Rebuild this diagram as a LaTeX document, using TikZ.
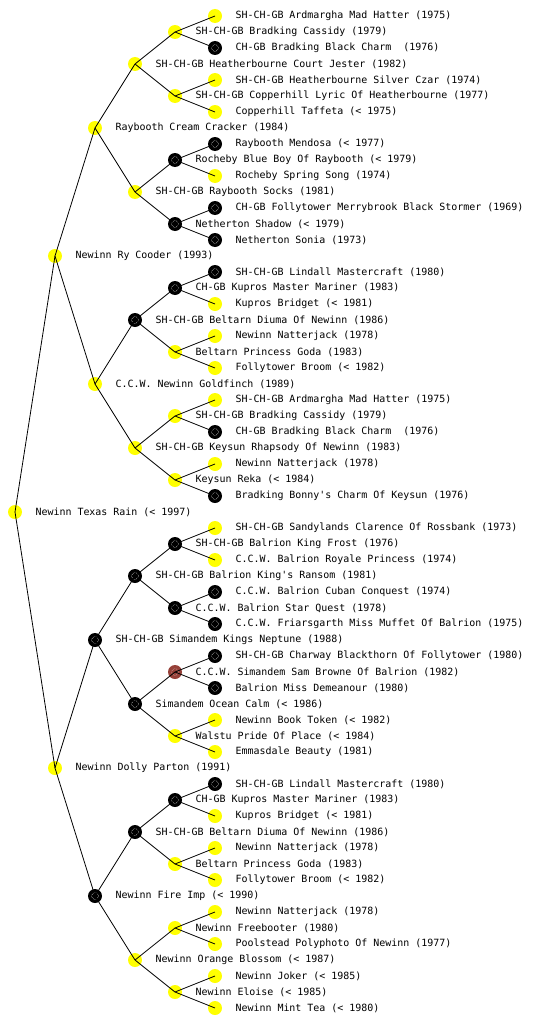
\documentclass[tikz,border=0pt]{standalone}
\usepackage{fontspec}
\newfontfamily\pedfont{DejaVu Sans Mono}
\usepackage{tikz}
\usetikzlibrary{calc}
\definecolor{pedYellow}{RGB}{255,255,0}
\definecolor{pedBrown}{RGB}{150,64,56}

\begin{document}
\begin{tikzpicture}[
    x=0.75pt, y=-0.75pt,
    dognode/.style={circle, inner sep=0pt, minimum size=10.5pt},
    yel/.style={dognode, fill=pedYellow},
    blk/.style={dognode, fill=black,
      path picture={\draw[white, line width=0.4pt, dash pattern=on 0.4pt off 0.9pt]
        (path picture bounding box.center) circle (2.6pt);}},
    brn/.style={dognode, fill=pedBrown,
      path picture={\draw[white!70!pedBrown, line width=0.4pt, dash pattern=on 0.4pt off 0.9pt]
        (path picture bounding box.center) circle (2.6pt);}},
    every label/.style={inner sep=0pt, anchor=west,
      font=\pedfont\fontsize{7.47pt}{8pt}\selectfont},
    label distance=9.75pt,
    edge/.style={draw=black, line width=0.6pt},
  ]
  \useasboundingbox[fill=white] (0,0) rectangle (560,1024);

  % root
  \node[yel, label={east:Newinn Texas Rain (< 1997)}] (dog) at (15,512) {};

  % parents
  \node[yel, label={east:Newinn Ry Cooder (1993)}] (dogs) at (55,256) {};
  \node[yel, label={east:Newinn Dolly Parton (1991)}] (dogd) at (55,768) {};

  % grandparents
  \node[yel, label={east:Raybooth Cream Cracker (1984)}] (dogss) at (95,128) {};
  \node[yel, label={east:C.C.W. Newinn Goldfinch (1989)}] (dogsd) at (95,384) {};
  \node[blk, label={east:SH-CH-GB Simandem Kings Neptune (1988)}] (dogds) at (95,640) {};
  \node[blk, label={east:Newinn Fire Imp (< 1990)}] (dogdd) at (95,896) {};

  % great-grandparents
  \node[yel, label={east:SH-CH-GB Heatherbourne Court Jester (1982)}] (dogsss) at (135,64) {};
  \node[yel, label={east:SH-CH-GB Raybooth Socks (1981)}] (dogssd) at (135,192) {};
  \node[blk, label={east:SH-CH-GB Beltarn Diuma Of Newinn (1986)}] (dogsds) at (135,320) {};
  \node[yel, label={east:SH-CH-GB Keysun Rhapsody Of Newinn (1983)}] (dogsdd) at (135,448) {};
  \node[blk, label={east:SH-CH-GB Balrion King's Ransom (1981)}] (dogdss) at (135,576) {};
  \node[blk, label={east:Simandem Ocean Calm (< 1986)}] (dogdsd) at (135,704) {};
  \node[blk, label={east:SH-CH-GB Beltarn Diuma Of Newinn (1986)}] (dogdds) at (135,832) {};
  \node[yel, label={east:Newinn Orange Blossom (< 1987)}] (dogddd) at (135,960) {};

  % 4th generation
  \node[yel, label={east:SH-CH-GB Bradking Cassidy (1979)}] (dogssss) at (175,32) {};
  \node[yel, label={east:SH-CH-GB Copperhill Lyric Of Heatherbourne (1977)}] (dogsssd) at (175,96) {};
  \node[blk, label={east:Rocheby Blue Boy Of Raybooth (< 1979)}] (dogssds) at (175,160) {};
  \node[blk, label={east:Netherton Shadow (< 1979)}] (dogssdd) at (175,224) {};
  \node[blk, label={east:CH-GB Kupros Master Mariner (1983)}] (dogsdss) at (175,288) {};
  \node[yel, label={east:Beltarn Princess Goda (1983)}] (dogsdsd) at (175,352) {};
  \node[yel, label={east:SH-CH-GB Bradking Cassidy (1979)}] (dogsdds) at (175,416) {};
  \node[yel, label={east:Keysun Reka (< 1984)}] (dogsddd) at (175,480) {};
  \node[blk, label={east:SH-CH-GB Balrion King Frost (1976)}] (dogdsss) at (175,544) {};
  \node[blk, label={east:C.C.W. Balrion Star Quest (1978)}] (dogdssd) at (175,608) {};
  \node[brn, label={east:C.C.W. Simandem Sam Browne Of Balrion (1982)}] (dogdsds) at (175,672) {};
  \node[yel, label={east:Walstu Pride Of Place (< 1984)}] (dogdsdd) at (175,736) {};
  \node[blk, label={east:CH-GB Kupros Master Mariner (1983)}] (dogddss) at (175,800) {};
  \node[yel, label={east:Beltarn Princess Goda (1983)}] (dogddsd) at (175,864) {};
  \node[yel, label={east:Newinn Freebooter (1980)}] (dogddds) at (175,928) {};
  \node[yel, label={east:Newinn Eloise (< 1985)}] (dogdddd) at (175,992) {};

  % 5th generation
  \node[yel, label={east:SH-CH-GB Ardmargha Mad Hatter (1975)}] (dogsssss) at (215,16) {};
  \node[blk, label={east:CH-GB Bradking Black Charm~ (1976)}] (dogssssd) at (215,48) {};
  \node[yel, label={east:SH-CH-GB Heatherbourne Silver Czar (1974)}] (dogsssds) at (215,80) {};
  \node[yel, label={east:Copperhill Taffeta (< 1975)}] (dogsssdd) at (215,112) {};
  \node[blk, label={east:Raybooth Mendosa (< 1977)}] (dogssdss) at (215,144) {};
  \node[yel, label={east:Rocheby Spring Song (1974)}] (dogssdsd) at (215,176) {};
  \node[blk, label={east:CH-GB Follytower Merrybrook Black Stormer (1969)}] (dogssdds) at (215,208) {};
  \node[blk, label={east:Netherton Sonia (1973)}] (dogssddd) at (215,240) {};
  \node[blk, label={east:SH-CH-GB Lindall Mastercraft (1980)}] (dogsdsss) at (215,272) {};
  \node[yel, label={east:Kupros Bridget (< 1981)}] (dogsdssd) at (215,304) {};
  \node[yel, label={east:Newinn Natterjack (1978)}] (dogsdsds) at (215,336) {};
  \node[yel, label={east:Follytower Broom (< 1982)}] (dogsdsdd) at (215,368) {};
  \node[yel, label={east:SH-CH-GB Ardmargha Mad Hatter (1975)}] (dogsddss) at (215,400) {};
  \node[blk, label={east:CH-GB Bradking Black Charm~ (1976)}] (dogsddsd) at (215,432) {};
  \node[yel, label={east:Newinn Natterjack (1978)}] (dogsddds) at (215,464) {};
  \node[blk, label={east:Bradking Bonny's Charm Of Keysun (1976)}] (dogsdddd) at (215,496) {};
  \node[yel, label={east:SH-CH-GB Sandylands Clarence Of Rossbank (1973)}] (dogdssss) at (215,528) {};
  \node[yel, label={east:C.C.W. Balrion Royale Princess (1974)}] (dogdsssd) at (215,560) {};
  \node[blk, label={east:C.C.W. Balrion Cuban Conquest (1974)}] (dogdssds) at (215,592) {};
  \node[blk, label={east:C.C.W. Friarsgarth Miss Muffet Of Balrion (1975)}] (dogdssdd) at (215,624) {};
  \node[blk, label={east:SH-CH-GB Charway Blackthorn Of Follytower (1980)}] (dogdsdss) at (215,656) {};
  \node[blk, label={east:Balrion Miss Demeanour (1980)}] (dogdsdsd) at (215,688) {};
  \node[yel, label={east:Newinn Book Token (< 1982)}] (dogdsdds) at (215,720) {};
  \node[yel, label={east:Emmasdale Beauty (1981)}] (dogdsddd) at (215,752) {};
  \node[blk, label={east:SH-CH-GB Lindall Mastercraft (1980)}] (dogddsss) at (215,784) {};
  \node[yel, label={east:Kupros Bridget (< 1981)}] (dogddssd) at (215,816) {};
  \node[yel, label={east:Newinn Natterjack (1978)}] (dogddsds) at (215,848) {};
  \node[yel, label={east:Follytower Broom (< 1982)}] (dogddsdd) at (215,880) {};
  \node[yel, label={east:Newinn Natterjack (1978)}] (dogdddss) at (215,912) {};
  \node[yel, label={east:Poolstead Polyphoto Of Newinn (1977)}] (dogdddsd) at (215,944) {};
  \node[yel, label={east:Newinn Joker (< 1985)}] (dogdddds) at (215,976) {};
  \node[yel, label={east:Newinn Mint Tea (< 1980)}] (dogddddd) at (215,1008) {};

  % sire and dam lines
  \foreach \p in {dog,dogs,dogd,dogss,dogsd,dogds,dogdd,
      dogsss,dogssd,dogsds,dogsdd,dogdss,dogdsd,dogdds,dogddd,
      dogssss,dogsssd,dogssds,dogssdd,dogsdss,dogsdsd,dogsdds,dogsddd,
      dogdsss,dogdssd,dogdsds,dogdsdd,dogddss,dogddsd,dogddds,dogdddd}
    \draw[edge] (\p.center) -- (\p s.center) (\p.center) -- (\p d.center);
\end{tikzpicture}
\end{document}
